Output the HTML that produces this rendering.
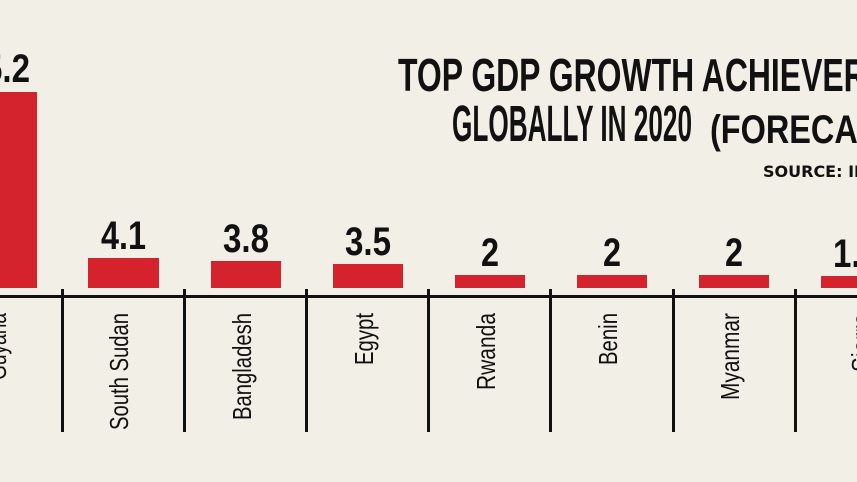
<!DOCTYPE html>
<html><head><meta charset="utf-8"><style>
html,body{margin:0;padding:0;background:#f2efe7;}
svg{display:block;}
text{font-family:"Liberation Sans",sans-serif;fill:#111;}
.v{font-weight:bold;font-size:40px;}
.c{font-size:26px;}
</style></head><body>
<svg width="857" height="482" viewBox="0 0 857 482">
<rect width="857" height="482" fill="#f2efe7"/>
<text x="398" y="91" font-weight="bold" font-size="46" textLength="490" lengthAdjust="spacingAndGlyphs">TOP GDP GROWTH ACHIEVERS</text>
<text x="452" y="141" font-weight="bold" font-size="51" textLength="240" lengthAdjust="spacingAndGlyphs">GLOBALLY IN 2020</text>
<text x="710" y="143" font-weight="bold" font-size="40" textLength="200" lengthAdjust="spacingAndGlyphs">(FORECAST)</text>
<text x="763" y="177" font-weight="bold" font-size="16" style="font-family:'DejaVu Sans',sans-serif">SOURCE: IMF</text>
<g fill="#d4232d">
<rect x="-35" y="92" width="72" height="196"/>
<rect x="88" y="258" width="71" height="30"/>
<rect x="211" y="261" width="70" height="27"/>
<rect x="333" y="264" width="70" height="24"/>
<rect x="455" y="275" width="70" height="13"/>
<rect x="577" y="275" width="70" height="13"/>
<rect x="699" y="275" width="70" height="13"/>
<rect x="821" y="276" width="70" height="12"/>
</g>
<text class="v" x="-16" y="82" textLength="46" lengthAdjust="spacingAndGlyphs">5.2</text>
<text class="v" x="101" y="249" textLength="45" lengthAdjust="spacingAndGlyphs">4.1</text>
<text class="v" x="223" y="252" textLength="46" lengthAdjust="spacingAndGlyphs">3.8</text>
<text class="v" x="345" y="255" textLength="46" lengthAdjust="spacingAndGlyphs">3.5</text>
<text class="v" x="481" y="266" textLength="18" lengthAdjust="spacingAndGlyphs">2</text>
<text class="v" x="603" y="266" textLength="18" lengthAdjust="spacingAndGlyphs">2</text>
<text class="v" x="725" y="266" textLength="18" lengthAdjust="spacingAndGlyphs">2</text>
<text class="v" x="833" y="267" textLength="46" lengthAdjust="spacingAndGlyphs">1.9</text>
<rect x="0" y="295" width="857" height="3" fill="#111"/>
<g fill="#111">
<rect x="61" y="289" width="3" height="143"/>
<rect x="183" y="289" width="3" height="143"/>
<rect x="305" y="289" width="3" height="143"/>
<rect x="427" y="289" width="3" height="143"/>
<rect x="549" y="289" width="3" height="143"/>
<rect x="672" y="289" width="3" height="143"/>
<rect x="794" y="289" width="3" height="143"/>
</g>
<text class="c" transform="translate(6,380) rotate(-90)" textLength="67" lengthAdjust="spacingAndGlyphs">Guyana</text>
<text class="c" transform="translate(128,430) rotate(-90)" textLength="117" lengthAdjust="spacingAndGlyphs">South Sudan</text>
<text class="c" transform="translate(251,420) rotate(-90)" textLength="107" lengthAdjust="spacingAndGlyphs">Bangladesh</text>
<text class="c" transform="translate(373,365) rotate(-90)" textLength="52" lengthAdjust="spacingAndGlyphs">Egypt</text>
<text class="c" transform="translate(495,390) rotate(-90)" textLength="77" lengthAdjust="spacingAndGlyphs">Rwanda</text>
<text class="c" transform="translate(617,365) rotate(-90)" textLength="52" lengthAdjust="spacingAndGlyphs">Benin</text>
<text class="c" transform="translate(739,400) rotate(-90)" textLength="87" lengthAdjust="spacingAndGlyphs">Myanmar</text>
<text class="c" transform="translate(870,372) rotate(-90)" textLength="59" lengthAdjust="spacingAndGlyphs">Sierra</text>
</svg>
</body></html>
